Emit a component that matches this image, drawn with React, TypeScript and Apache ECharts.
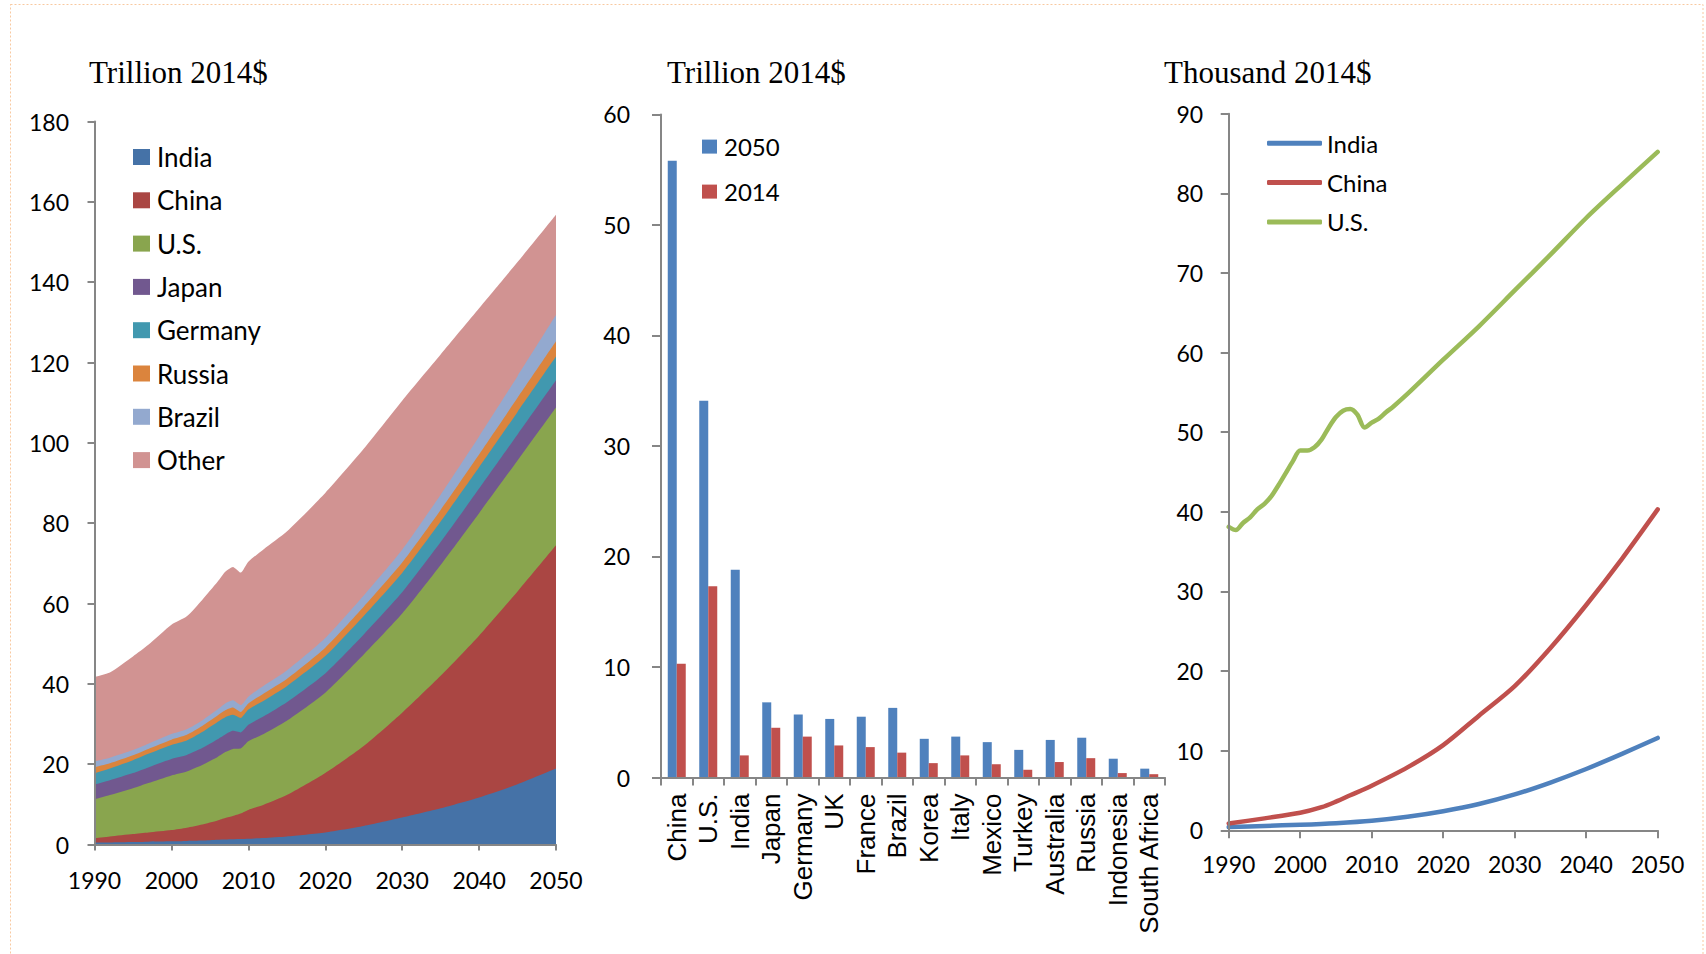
import React, { useEffect, useRef } from "react";
import * as echarts from "echarts";

// ---------- Panel 1: stacked GDP (trillion 2014$) ----------
const areaYears = [1990, 1992, 1995, 1997, 2000, 2002, 2004, 2006, 2007, 2008, 2009, 2010, 2012, 2015, 2020, 2025, 2030, 2035, 2040, 2045, 2050];
const indiaGdp = [0.5, 0.5, 0.6, 0.7, 0.8, 0.9, 1.0, 1.2, 1.25, 1.3, 1.35, 1.45, 1.6, 2.0, 3.0, 4.6, 6.7, 9.0, 11.7, 15.0, 18.9];
const chinaGdp = [1.1, 1.5, 2.0, 2.3, 2.8, 3.3, 4.0, 4.8, 5.35, 5.8, 6.35, 7.15, 8.3, 10.3, 14.8, 19.9, 26.1, 33.0, 40.3, 48.0, 55.6];
const usGdp = [9.6, 10.3, 11.4, 12.3, 13.6, 14.0, 14.8, 15.8, 16.4, 16.7, 16.2, 17.1, 17.6, 18.5, 20.0, 22.8, 24.7, 27.6, 30.5, 32.6, 34.3];
const japanGdp = [3.7, 3.7, 3.8, 3.9, 4.1, 4.1, 4.2, 4.4, 4.4, 4.5, 4.0, 4.1, 4.4, 4.6, 4.8, 5.0, 5.3, 5.7, 6.1, 6.5, 6.8];
const germanyGdp = [2.8, 2.9, 3.2, 3.4, 3.5, 3.6, 4.0, 4.3, 4.3, 4.0, 3.6, 3.8, 3.9, 4.0, 4.3, 4.6, 4.8, 5.1, 5.3, 5.6, 5.9];
const russiaGdp = [1.5, 1.3, 1.2, 1.2, 1.3, 1.4, 1.5, 1.6, 1.7, 1.8, 1.5, 1.5, 1.8, 1.8, 2.1, 2.3, 2.6, 2.9, 3.2, 3.5, 3.8];
const brazilGdp = [1.5, 1.4, 1.3, 1.3, 1.4, 1.4, 1.4, 1.5, 1.7, 1.8, 1.7, 1.7, 1.9, 2.1, 2.4, 2.8, 3.2, 3.8, 4.5, 5.4, 6.5];
const otherGdp = [21.0, 21.2, 23.3, 24.6, 27.2, 28.1, 30.0, 31.8, 32.8, 33.2, 33.0, 33.6, 34.0, 34.6, 36.1, 36.5, 37.1, 34.9, 31.9, 28.4, 25.0];

const areaNames = ["India", "China", "U.S.", "Japan", "Germany", "Russia", "Brazil", "Other"];
const areaValues = [indiaGdp, chinaGdp, usGdp, japanGdp, germanyGdp, russiaGdp, brazilGdp, otherGdp];
const areaColors = ["#4572A7", "#AA4643", "#89A54E", "#71588F", "#4198AF", "#DB843D", "#93A9CF", "#D19392"];

// ---------- Panel 2: bars (trillion 2014$) ----------
const barCountries = ["China", "U.S.", "India", "Japan", "Germany", "UK", "France", "Brazil", "Korea", "Italy", "Mexico", "Turkey", "Australia", "Russia", "Indonesia", "South Africa"];
const gdp2050 = [55.8, 34.1, 18.8, 6.8, 5.7, 5.3, 5.5, 6.3, 3.5, 3.7, 3.2, 2.5, 3.4, 3.6, 1.7, 0.8];
const gdp2014 = [10.3, 17.3, 2.0, 4.5, 3.7, 2.9, 2.75, 2.25, 1.3, 2.0, 1.2, 0.7, 1.4, 1.75, 0.4, 0.3];

// ---------- Panel 3: per capita (thousand 2014$) ----------
const usPcYears = [1990, 1991, 1992, 1993, 1994, 1995, 1996, 1997, 1998, 1999, 2000, 2001, 2002, 2003, 2004, 2005, 2006, 2007, 2008, 2009, 2010, 2011, 2012, 2013, 2015, 2020, 2025, 2030, 2035, 2040, 2045, 2050];
const usPc = [38.1, 37.7, 38.6, 39.3, 40.3, 41.0, 42.0, 43.4, 44.9, 46.4, 47.7, 47.7, 48.1, 49.1, 50.6, 51.9, 52.7, 52.9, 52.2, 50.6, 51.2, 51.7, 52.5, 53.2, 54.8, 59.1, 63.3, 67.8, 72.3, 76.9, 81.1, 85.2];
const chinaPcYears = [1990, 1995, 2000, 2003, 2005, 2007, 2010, 2015, 2020, 2025, 2030, 2035, 2040, 2045, 2050];
const chinaPc = [0.85, 1.5, 2.2, 2.9, 3.6, 4.4, 5.6, 7.9, 10.7, 14.4, 18.1, 22.9, 28.3, 34.1, 40.3];
const indiaPcYears = [1990, 1995, 2000, 2005, 2010, 2015, 2020, 2025, 2030, 2035, 2040, 2045, 2050];
const indiaPc = [0.4, 0.55, 0.7, 0.9, 1.2, 1.7, 2.4, 3.3, 4.5, 6.0, 7.7, 9.6, 11.6];

const titles = ["Trillion 2014$", "Trillion 2014$", "Thousand 2014$"];

const AXIS_GREY = "#868686";
const plain = (v: number) => String(v);
const tickFont = { color: "#000", fontFamily: "Lato", fontSize: 23, lineHeight: 23, formatter: plain };

function axisBase(tickLen: number) {
  return {
    z: 5,
    axisLine: { show: true, lineStyle: { color: AXIS_GREY, width: 2 } },
    axisTick: { show: true, length: tickLen, lineStyle: { color: AXIS_GREY, width: 2 } },
    splitLine: { show: false },
  };
}

const pair = (xs: number[], ys: number[]) => xs.map((x, i) => [x, ys[i]]);

function buildOption() {
  // cumulative tops of the stack (India at bottom, Other on top)
  const cumulative: number[][] = [];
  areaValues.forEach((vals, k) => {
    cumulative.push(vals.map((v, i) => +(v + (k > 0 ? cumulative[k - 1][i] : 0)).toFixed(3)));
  });
  // draw from the top layer down so lower layers paint over higher ones
  const areaSeries = areaNames
    .map((name, k) => ({
      name,
      type: "line",
      xAxisIndex: 0,
      yAxisIndex: 0,
      smooth: 0.2,
      symbol: "none",
      showSymbol: false,
      z: 2,
      color: areaColors[k],
      itemStyle: { color: areaColors[k] },
      lineStyle: { width: 0, color: areaColors[k] },
      areaStyle: { color: areaColors[k], opacity: 1 },
      data: pair(areaYears, cumulative[k]),
    }))
    .reverse();

  const lineDefs = [
    { name: "India_pc", xs: indiaPcYears, ys: indiaPc, color: "#4F81BD" },
    { name: "China_pc", xs: chinaPcYears, ys: chinaPc, color: "#C0504D" },
    { name: "U.S._pc", xs: usPcYears, ys: usPc, color: "#9BBB59" },
  ];
  const lineSeries = lineDefs.map((d) => ({
    name: d.name,
    type: "line",
    xAxisIndex: 2,
    yAxisIndex: 2,
    smooth: 0.3,
    symbol: "none",
    showSymbol: false,
    color: d.color,
    itemStyle: { color: d.color },
    lineStyle: { width: 4.5, color: d.color, cap: "round", join: "round" },
    data: pair(d.xs, d.ys),
  }));

  return {
    animation: false,
    backgroundColor: "#fff",
    title: [
      { text: titles[0], left: 89, top: 57 },
      { text: titles[1], left: 667, top: 57 },
      { text: titles[2], left: 1164, top: 57 },
    ].map((t) => ({
      ...t,
      padding: 0,
      textStyle: { fontFamily: "Liberation Serif", fontSize: 31, fontWeight: "normal", color: "#000", lineHeight: 31 },
    })),
    graphic: [
      {
        type: "rect",
        z: 100,
        silent: true,
        shape: { x: 10.5, y: 4.5, width: 1692.5, height: 970 },
        style: { fill: "none", stroke: "#F8C9A0", lineWidth: 1, lineDash: [2, 2] },
      },
    ],
    legend: [
      {
        orient: "vertical",
        left: 133,
        top: 144,
        padding: 0,
        itemWidth: 17,
        itemHeight: 16,
        itemGap: 17.3,
        icon: "rect",
        selectedMode: false,
        data: areaNames,
        itemStyle: { borderWidth: 0 },
        textStyle: { fontFamily: "Lato", fontSize: 26, lineHeight: 26, color: "#000", padding: [0, 0, 0, 2] },
      },
      {
        orient: "vertical",
        left: 702,
        top: 134.6,
        padding: 0,
        itemWidth: 15,
        itemHeight: 14,
        itemGap: 21,
        icon: "rect",
        selectedMode: false,
        data: ["2050", "2014"],
        itemStyle: { borderWidth: 0 },
        textStyle: { fontFamily: "Lato", fontSize: 24, lineHeight: 24, color: "#000", padding: [0, 0, 0, 2] },
      },
      {
        orient: "vertical",
        left: 1267,
        top: 131.3,
        padding: 0,
        itemWidth: 55,
        itemHeight: 5,
        itemGap: 15.3,
        icon: "roundRect",
        selectedMode: false,
        data: lineDefs.map((d) => d.name),
        formatter: (n: string) => n.replace("_pc", ""),
        itemStyle: { borderWidth: 0 },
        textStyle: { fontFamily: "Lato", fontSize: 24, lineHeight: 24, color: "#000" },
      },
    ],
    grid: [
      { left: 94.5, top: 121.5, width: 461.5, height: 723, containLabel: false },
      { left: 661, top: 114.4, width: 504, height: 663.1, containLabel: false },
      { left: 1228.7, top: 113.7, width: 429, height: 716.6, containLabel: false },
    ],
    xAxis: [
      {
        ...axisBase(6),
        gridIndex: 0,
        type: "value",
        min: 1990,
        max: 2050,
        interval: 10,
        axisLabel: { ...tickFont, margin: 24 },
      },
      {
        ...axisBase(8),
        gridIndex: 1,
        type: "category",
        data: barCountries,
        axisLabel: {
          color: "#000",
          fontFamily: "Liberation Sans",
          fontSize: 26,
          rotate: 90,
          interval: 0,
          margin: 16,
        },
      },
      {
        ...axisBase(8),
        gridIndex: 2,
        type: "value",
        min: 1990,
        max: 2050,
        interval: 10,
        axisLabel: { ...tickFont, margin: 22 },
      },
    ],
    yAxis: [
      {
        ...axisBase(7),
        gridIndex: 0,
        type: "value",
        min: 0,
        max: 180,
        interval: 20,
        axisLabel: { ...tickFont, margin: 25.5 },
      },
      {
        ...axisBase(9),
        gridIndex: 1,
        type: "value",
        min: 0,
        max: 60,
        interval: 10,
        axisLabel: { ...tickFont, margin: 31 },
      },
      {
        ...axisBase(8),
        gridIndex: 2,
        type: "value",
        min: 0,
        max: 90,
        interval: 10,
        axisLabel: { ...tickFont, margin: 25.5 },
      },
    ],
    series: [
      ...areaSeries,
      {
        name: "2050",
        type: "bar",
        xAxisIndex: 1,
        yAxisIndex: 1,
        barWidth: 9,
        barGap: "0%",
        color: "#4F81BD",
        itemStyle: { color: "#4F81BD" },
        data: gdp2050,
      },
      {
        name: "2014",
        type: "bar",
        xAxisIndex: 1,
        yAxisIndex: 1,
        barWidth: 9,
        barGap: "0%",
        color: "#C0504D",
        itemStyle: { color: "#C0504D" },
        data: gdp2014,
      },
      ...lineSeries,
    ],
  };
}

export default function App() {
  const ref = useRef<HTMLDivElement>(null);
  useEffect(() => {
    if (!ref.current) return;
    const chart = echarts.init(ref.current, null, { renderer: "svg" });
    chart.setOption(buildOption() as any);
    return () => chart.dispose();
  }, []);
  return (
    <div
      ref={ref}
      style={{ position: "absolute", left: 0, top: 0, width: 1706, height: 954, background: "#fff" }}
    />
  );
}
